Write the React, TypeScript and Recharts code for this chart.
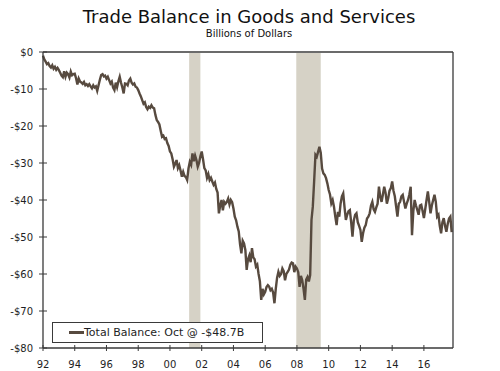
import { LineChart, Line, XAxis, YAxis, ReferenceArea, ReferenceLine, Legend } from "recharts";

const startYear = 1992;

// Total balance, goods and services, monthly, $ billions (Jan 1992 - Oct 2017)
const balance = [
  -1.0, -2.0, -2.6, -3.3, -3.0, -3.8, -4.2, -3.6, -4.5, -4.0, -4.8, -4.3, // 1992
  -4.9, -5.6, -6.4, -6.8, -5.2, -6.7, -5.6, -6.0, -6.9, -5.3, -6.3, -6.0, // 1993
  -5.9, -7.1, -8.8, -7.2, -8.0, -8.2, -8.6, -8.1, -9.0, -8.7, -9.2, -8.7, // 1994
  -9.3, -9.8, -9.0, -9.6, -9.3, -10.5, -9.0, -7.5, -6.2, -6.0, -6.6, -6.4, // 1995
  -7.2, -6.7, -7.6, -8.5, -8.0, -9.6, -10.3, -8.3, -9.5, -7.9, -6.7, -8.3, // 1996
  -9.6, -11.2, -8.5, -8.6, -9.0, -7.7, -7.2, -8.3, -8.8, -8.5, -9.4, -9.6, // 1997
  -10.3, -11.2, -12.0, -13.0, -14.0, -13.6, -14.9, -15.5, -14.8, -15.1, -14.4, -15.0, // 1998
  -15.2, -17.0, -18.4, -18.9, -19.6, -21.3, -22.9, -22.6, -23.5, -23.3, -24.6, -25.4, // 1999
  -26.9, -27.4, -29.0, -31.0, -30.2, -29.2, -31.4, -30.6, -32.0, -33.7, -32.4, -33.5, // 2000
  -33.8, -34.6, -31.5, -29.7, -30.5, -27.4, -29.5, -28.0, -29.2, -31.0, -30.0, -28.2, // 2001
  -26.9, -29.0, -31.4, -32.0, -34.0, -33.0, -34.6, -34.0, -35.0, -35.9, -35.3, -37.0, // 2002
  -38.0, -43.6, -41.5, -40.0, -42.8, -40.5, -41.0, -40.5, -39.6, -41.2, -40.0, -40.6, // 2003
  -42.3, -44.5, -45.5, -47.2, -48.5, -52.0, -54.4, -51.0, -51.7, -53.5, -58.9, -56.0, // 2004
  -55.0, -56.8, -53.0, -55.5, -56.0, -58.0, -57.5, -60.0, -62.0, -67.0, -64.0, -65.5, // 2005
  -64.8, -63.5, -63.0, -63.4, -64.4, -64.0, -65.0, -67.9, -64.0, -61.0, -59.4, -60.5, // 2006
  -60.0, -58.5, -59.2, -61.7, -60.0, -59.4, -58.8, -57.5, -56.9, -57.1, -59.5, -58.0, // 2007
  -58.5, -59.5, -63.5, -60.5, -61.7, -64.0, -67.0, -61.5, -60.8, -62.0, -60.3, -45.4, // 2008
  -41.8, -35.0, -27.8, -28.3, -27.0, -25.6, -27.2, -31.5, -32.8, -33.2, -34.1, -35.5, // 2009
  -37.3, -38.5, -40.9, -40.0, -41.8, -44.5, -46.8, -43.2, -44.5, -41.0, -39.0, -38.2, // 2010
  -42.0, -45.4, -44.0, -43.0, -42.7, -46.0, -49.9, -45.5, -44.0, -43.6, -46.0, -47.0, // 2011
  -48.1, -51.3, -49.0, -47.5, -46.8, -45.0, -44.5, -43.6, -41.5, -40.5, -42.5, -43.2, // 2012
  -42.0, -41.0, -36.4, -39.0, -40.5, -38.5, -36.4, -38.0, -41.0, -39.5, -37.5, -36.8, // 2013
  -35.0, -37.5, -39.0, -41.8, -44.5, -41.0, -40.5, -39.0, -38.6, -40.5, -42.3, -41.0, // 2014
  -40.0, -38.5, -36.4, -49.5, -43.0, -40.0, -41.5, -42.7, -44.0, -41.5, -41.3, -43.0, // 2015
  -44.9, -42.5, -40.0, -37.7, -40.5, -43.6, -41.5, -40.0, -38.6, -40.5, -44.5, -44.0, // 2016
  -47.0, -49.0, -46.0, -44.9, -47.0, -48.6, -46.5, -45.0, -44.5, -48.7, // 2017
];

// recession start / end months (year, month 1-12)
const recessions = [
  [2001, 3, 2001, 11],
  [2007, 12, 2009, 6],
];

const yTicks = [-80, -70, -60, -50, -40, -30, -20, -10, 0];
const xTickYears = [1992, 1994, 1996, 1998, 2000, 2002, 2004, 2006, 2008, 2010, 2012, 2014, 2016];

const data = balance.map((v, i) => ({ i, total: v }));
const monthIdx = (y: number, m: number) => (y - startYear) * 12 + (m - 1);
const xTicks = xTickYears.map((y) => monthIdx(y, 1));

const LINE = "#574a3f";
const AXIS = "#3a3a3a";
const BAND = "#d6d2c6";
const FONT = "'DejaVu Sans', Verdana, sans-serif";
const TXT = "#1e1e24";

const fmtY = (v: number) => (v < 0 ? `-$${-v}` : `$${v}`);
const fmtX = (v: number) => String((startYear + Math.round(v / 12)) % 100).padStart(2, "0");

function LeftTick(props: any) {
  const { x, y, payload } = props;
  const ax = x + 10;
  return (
    <g>
      <line x1={ax - 4} x2={ax + 4} y1={y} y2={y} stroke={AXIS} strokeWidth={1} />
      <text x={x} y={y} dy="0.35em" textAnchor="end" fontSize={10} fontFamily={FONT} fill={TXT}>
        {fmtY(payload.value)}
      </text>
    </g>
  );
}

function RightTick(props: any) {
  const { x, y, payload } = props;
  const ax = x - 7.5;
  return (
    <g>
      <line x1={ax - 4} x2={ax + 4} y1={y} y2={y} stroke={AXIS} strokeWidth={1} />
      <text x={x} y={y} dy="0.35em" textAnchor="start" fontSize={10} fontFamily={FONT} fill={TXT}>
        {fmtY(payload.value)}
      </text>
    </g>
  );
}

function BottomTick(props: any) {
  const { x, y, payload } = props;
  const ay = y - 13;
  return (
    <g>
      <line x1={x} x2={x} y1={ay - 3} y2={ay + 3} stroke={AXIS} strokeWidth={1} />
      <text x={x} y={y} dy="0.71em" textAnchor="middle" fontSize={10} fontFamily={FONT} fill={TXT}>
        {fmtX(payload.value)}
      </text>
    </g>
  );
}

function LegendBox() {
  const last = balance[balance.length - 1];
  return (
    <div
      style={{
        boxSizing: "border-box",
        width: 211,
        height: 21,
        border: `1px solid ${AXIS}`,
        background: "#fff",
        display: "flex",
        alignItems: "center",
        fontFamily: FONT,
        fontSize: 11,
        color: TXT,
        whiteSpace: "nowrap",
      }}
    >
      <span style={{ display: "inline-block", width: 15, height: 3, background: LINE, marginLeft: 16 }} />
      <span>Total Balance: Oct @ -${(-last).toFixed(1)}B</span>
    </div>
  );
}

export default function App() {
  return (
    <div style={{ position: "absolute", left: 0, top: 0, width: 500, height: 371, background: "#fff" }}>
      <div
        style={{
          position: "absolute", left: 0, top: 8, width: 498, textAlign: "center",
          fontFamily: FONT, fontSize: 18, lineHeight: "18px", color: "#111",
        }}
      >
        Trade Balance in Goods and Services
      </div>
      <div
        style={{
          position: "absolute", left: 0, top: 29, width: 498, textAlign: "center",
          fontFamily: FONT, fontSize: 10, lineHeight: "10px", color: "#111",
        }}
      >
        Billions of Dollars
      </div>
      <LineChart width={500} height={371} data={data} margin={{ top: 52, right: 0, bottom: 0, left: 0 }}>
        {recessions.map(([y1, m1, y2, m2], k) => (
          <ReferenceArea
            key={k}
            yAxisId="left"
            x1={monthIdx(y1, m1) + 0.5}
            x2={monthIdx(y2, m2) + 1}
            y1={-80}
            y2={-0.3}
            fill={BAND}
            fillOpacity={1}
            stroke="none"
          />
        ))}
        <XAxis
          dataKey="i"
          type="number"
          domain={[0, 310]}
          ticks={xTicks}
          height={23}
          tickSize={0}
          tickMargin={13}
          tickLine={false}
          axisLine={{ stroke: AXIS, strokeWidth: 1.3 }}
          tick={<BottomTick />}
          interval={0}
        />
        <YAxis
          yAxisId="left"
          domain={[-80, 0]}
          ticks={yTicks}
          width={43}
          tickSize={0}
          tickMargin={10}
          tickLine={false}
          axisLine={{ stroke: AXIS, strokeWidth: 1.3 }}
          tick={<LeftTick />}
          interval={0}
        />
        <YAxis
          yAxisId="right"
          orientation="right"
          domain={[-80, 0]}
          ticks={yTicks}
          width={47}
          tickSize={0}
          tickMargin={7.5}
          tickLine={false}
          axisLine={{ stroke: AXIS, strokeWidth: 1.3 }}
          tick={<RightTick />}
          interval={0}
        />
        <ReferenceLine yAxisId="left" y={0} stroke={AXIS} strokeWidth={1.3} />
        <Line
          yAxisId="left"
          type="linear"
          dataKey="total"
          stroke={LINE}
          strokeWidth={2.4}
          dot={false}
          isAnimationActive={false}
        />
        <Legend
          layout="vertical"
          align="center"
          verticalAlign="middle"
          wrapperStyle={{ left: 52, top: 322, width: 211, height: 21 }}
          content={() => <LegendBox />}
        />
      </LineChart>
    </div>
  );
}
